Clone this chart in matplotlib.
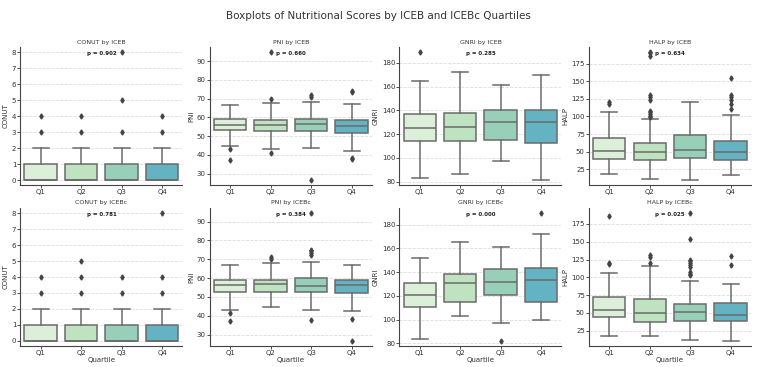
import matplotlib.pyplot as plt
from matplotlib.ticker import MultipleLocator

quartiles = ['Q1', 'Q2', 'Q3', 'Q4']
box_colors = ['#dcefd9', '#bfe2c0', '#97cfb9', '#63b3c3']

# five-number summaries per quartile: [whislo, q1, med, q3, whishi]
conut_iceb = [[0, 0, 0, 1, 2], [0, 0, 0, 1, 2], [0, 0, 0, 1, 2], [0, 0, 0, 1, 2]]
conut_iceb_fliers = [[3, 4], [3, 4], [3, 5, 8], [3, 4]]
pni_iceb = [[45.0, 53.4, 56.1, 59.2, 66.9], [43.0, 52.7, 56.0, 58.8, 67.8],
            [43.7, 52.9, 56.5, 59.4, 68.2], [42.3, 51.6, 55.4, 58.8, 67.3]]
pni_iceb_fliers = [[43.2, 37.2], [69.6, 94.9, 41.0], [70.7, 71.8, 26.6], [74.3, 73.6, 38.6, 37.6]]
gnri_iceb = [[83.4, 114.0, 124.9, 136.6, 165.1], [86.3, 114.0, 126.0, 137.4, 172.0],
             [97.1, 114.9, 130.6, 140.6, 161.4], [81.4, 112.3, 130.3, 140.6, 170.0]]
gnri_iceb_fliers = [[189.1], [], [], []]
halp_iceb = [[17.9, 39.8, 50.7, 68.8, 106.0], [11.7, 37.9, 50.2, 62.1, 96.0],
             [9.8, 40.7, 52.1, 73.1, 119.8], [16.4, 38.3, 49.3, 64.5, 102.1]]
halp_iceb_fliers = [[119.8, 116.9],
                    [191.2, 189.3, 185.5, 130.7, 126.9, 122.6, 108.3, 106.0, 103.6, 101.2, 98.8],
                    [],
                    [154.5, 130.7, 126.9, 122.6, 117.9, 109.8]]

conut_icebc = [[0, 0, 0, 1, 2], [0, 0, 0, 1, 2], [0, 0, 0, 1, 2], [0, 0, 0, 1, 2]]
conut_icebc_fliers = [[3, 4], [3, 4, 5], [3, 4], [3, 4, 8]]
pni_icebc = [[43.3, 52.7, 56.1, 59.2, 66.9], [44.8, 52.7, 56.7, 58.8, 67.8],
             [43.0, 52.5, 55.6, 60.1, 68.4], [42.4, 52.2, 56.1, 59.2, 66.9]]
pni_icebc_fliers = [[41.2, 37.2], [71.0, 70.0], [94.5, 75.0, 74.1, 73.1, 72.0, 37.7], [38.5, 26.6]]
gnri_icebc = [[83.7, 110.9, 120.3, 130.9, 152.0], [102.6, 114.6, 130.9, 138.6, 165.7],
              [97.1, 120.3, 131.7, 142.3, 161.4], [99.7, 114.6, 133.1, 143.1, 172.3]]
gnri_icebc_fliers = [[], [], [82.0], [189.7]]
halp_icebc = [[18.3, 44.5, 54.0, 72.1, 106.4], [17.9, 36.9, 49.8, 70.2, 116.0],
              [12.6, 39.3, 51.2, 63.1, 95.0], [10.7, 38.8, 47.4, 64.5, 90.7]]
halp_icebc_fliers = [[186.0, 120.2, 118.3], [130.7, 128.3, 120.7],
                     [190.2, 154.0, 125.0, 122.6, 120.2, 117.9, 115.0, 106.9, 104.5, 102.6],
                     [129.8, 117.9]]

p_values = [[0.902, 0.660, 0.285, 0.634], [0.781, 0.384, 0.000, 0.025]]
scores = ['CONUT', 'PNI', 'GNRI', 'HALP']
groups = ['ICEB', 'ICEBc']
tick_steps = [1, 10, 20, 25]

panels = [
    [(conut_iceb, conut_iceb_fliers), (pni_iceb, pni_iceb_fliers),
     (gnri_iceb, gnri_iceb_fliers), (halp_iceb, halp_iceb_fliers)],
    [(conut_icebc, conut_icebc_fliers), (pni_icebc, pni_icebc_fliers),
     (gnri_icebc, gnri_icebc_fliers), (halp_icebc, halp_icebc_fliers)],
]

edge = '#6b6b6b'
fig, axes = plt.subplots(2, 4, figsize=(7.57, 3.67), dpi=100)
fig.subplots_adjust(left=0.027, right=0.992, top=0.872, bottom=0.057, wspace=0.17, hspace=0.165)

for r in range(2):
    for c in range(4):
        ax = axes[r, c]
        summary, fliers = panels[r][c]
        stats = []
        for s, f in zip(summary, fliers):
            stats.append({'whislo': s[0], 'q1': s[1], 'med': s[2], 'q3': s[3],
                          'whishi': s[4], 'fliers': f})
        bp = ax.bxp(stats, positions=range(4), widths=0.8, patch_artist=True,
                    boxprops=dict(edgecolor=edge, linewidth=1.1),
                    whiskerprops=dict(color=edge, linewidth=1.1),
                    capprops=dict(color=edge, linewidth=1.1),
                    medianprops=dict(color=edge, linewidth=1.1),
                    flierprops=dict(marker='d', markersize=2.6, markerfacecolor='#444444',
                                    markeredgecolor='#444444', linestyle='none'),
                    capwidths=0.4)
        for patch, col in zip(bp['boxes'], box_colors):
            patch.set_facecolor(col)
        ax.set_xlim(-0.5, 3.5)
        ax.margins(y=0.04)
        ax.set_xticks(range(4))
        ax.set_xticklabels(quartiles)
        ax.yaxis.set_major_locator(MultipleLocator(tick_steps[c]))
        ax.set_axisbelow(True)
        ax.grid(axis='y', linestyle='--', color='#dddddd', linewidth=0.6)
        for side in ['top', 'right']:
            ax.spines[side].set_visible(False)
        for side in ['left', 'bottom']:
            ax.spines[side].set_color('#444444')
            ax.spines[side].set_linewidth(0.8)
        ax.tick_params(labelsize=5, length=2, width=0.6, colors='#333333', pad=1)
        ax.set_title(f'{scores[c]} by {groups[r]}', fontsize=4.5, pad=2.5, color='#333333')
        ax.set_ylabel(scores[c], fontsize=5, labelpad=2, color='#333333')
        if r == 1:
            ax.set_xlabel('Quartile', fontsize=5, labelpad=0.5, color='#333333')
        ax.text(0.5, 0.95, f'p = {p_values[r][c]:.3f}', transform=ax.transAxes,
                ha='center', va='center', fontsize=4, fontweight='bold', color='#222222')

fig.suptitle('Boxplots of Nutritional Scores by ICEB and ICEBc Quartiles', fontsize=7.5,
             y=0.97, color='#333333')
fig.savefig('out.png', dpi=100)
